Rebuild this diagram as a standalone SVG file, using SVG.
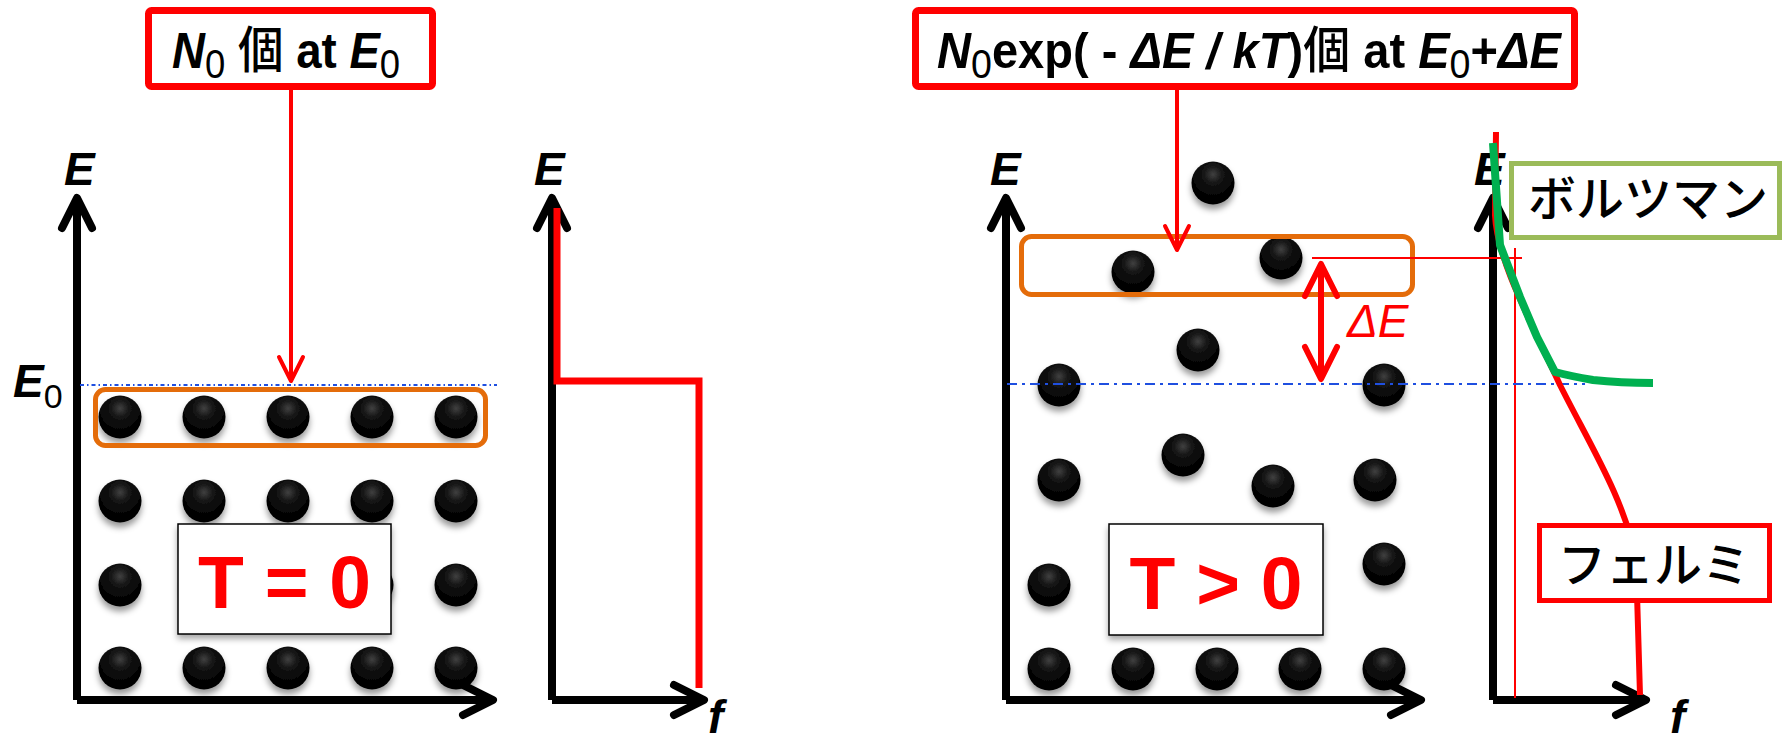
<svg xmlns="http://www.w3.org/2000/svg" width="1783" height="743" viewBox="0 0 1783 743">
<style>
.axis{fill:none;stroke:#000;stroke-width:8;stroke-linecap:butt}
.lbl{font-family:"Liberation Sans","Noto Sans CJK JP",sans-serif;font-size:50px;font-weight:bold;fill:#000}
.cjk{font-family:"Noto Sans CJK JP",sans-serif;font-weight:500}
.it{font-style:italic}
.sub{font-size:40px;font-weight:normal}
.ax-lbl{font-family:"Liberation Sans",sans-serif;font-size:46px;font-style:italic;font-weight:bold;fill:#000}
.tbox{fill:#fff;stroke:#000;stroke-width:1.5}
.ttext{font-family:"Liberation Sans",sans-serif;font-size:75px;font-weight:bold;fill:#f00;text-anchor:middle}
.obox{fill:none;stroke:#E46C0A;stroke-width:5}
.redbox{fill:#fff;stroke:#f00;stroke-width:7}
.kana{font-family:"Noto Sans CJK JP",sans-serif;font-size:48px;font-weight:500;fill:#000;text-anchor:middle}
.blue-dot{fill:none;stroke:#1f4fe0;stroke-width:2;stroke-dasharray:4 3 1.5 3}
.blue-dd{fill:none;stroke:#1f4fe0;stroke-width:2;stroke-dasharray:10 5 3 5}
.rarrow{fill:none;stroke:#f00;stroke-width:4}
.thin{fill:none;stroke:#f00;stroke-width:2}
</style>
<defs>
<radialGradient id="bg" cx="0.5" cy="0.3" r="0.72">
<stop offset="0" stop-color="#404040"/>
<stop offset="0.3" stop-color="#141414"/>
<stop offset="0.75" stop-color="#030303"/>
<stop offset="1" stop-color="#000"/>
</radialGradient>
<filter id="bsh" x="-50%" y="-50%" width="200%" height="220%">
<feDropShadow dx="0" dy="5" stdDeviation="3" flood-color="#000" flood-opacity="0.4"/>
</filter>
<filter id="boxsh" x="-10%" y="-10%" width="120%" height="130%">
<feDropShadow dx="0" dy="4" stdDeviation="3" flood-color="#000" flood-opacity="0.35"/>
</filter>
<circle id="ball" r="21.5" fill="url(#bg)" filter="url(#bsh)"/>
<marker id="ax" markerUnits="userSpaceOnUse" viewBox="-40 -25 50 50" refX="0" refY="0" markerWidth="50" markerHeight="50" orient="auto" overflow="visible">
<path d="M-30,-15 L0,0 L-30,15" fill="none" stroke="#000" stroke-width="8" stroke-linecap="round" stroke-linejoin="round"/>
</marker>
<marker id="ra" markerUnits="userSpaceOnUse" viewBox="-30 -20 40 40" refX="0" refY="0" markerWidth="40" markerHeight="40" orient="auto" overflow="visible">
<path d="M-24,-12 L0,0 L-24,12" fill="none" stroke="#f00" stroke-width="4" stroke-linecap="round" stroke-linejoin="round"/>
</marker>
<marker id="rb" markerUnits="userSpaceOnUse" viewBox="-40 -25 50 50" refX="0" refY="0" markerWidth="50" markerHeight="50" orient="auto-start-reverse" overflow="visible">
<path d="M-32,-16 L0,0 L-32,16" fill="none" stroke="#f00" stroke-width="6" stroke-linecap="round" stroke-linejoin="round"/>
</marker>
</defs>
<rect width="1783" height="743" fill="#fff"/>

<!-- LEFT PANEL -->
<g id="left-axes">
<path class="axis" d="M77 700 V198" marker-end="url(#ax)"/>
<path class="axis" d="M77 700 H493" marker-end="url(#ax)"/>
<text class="ax-lbl" x="64" y="185">E</text>
<text class="ax-lbl" x="13" y="397">E<tspan font-size="34" font-style="normal" font-weight="normal" dy="11">0</tspan></text>
</g>
<g id="left-balls">
<use href="#ball" x="120" y="417"/><use href="#ball" x="204" y="417"/><use href="#ball" x="288" y="417"/><use href="#ball" x="372" y="417"/><use href="#ball" x="456" y="417"/>
<use href="#ball" x="120" y="501"/><use href="#ball" x="204" y="501"/><use href="#ball" x="288" y="501"/><use href="#ball" x="372" y="501"/><use href="#ball" x="456" y="501"/>
<use href="#ball" x="120" y="585"/><use href="#ball" x="204" y="585"/><use href="#ball" x="288" y="585"/><use href="#ball" x="372" y="585"/><use href="#ball" x="456" y="585"/>
<use href="#ball" x="120" y="668"/><use href="#ball" x="204" y="668"/><use href="#ball" x="288" y="668"/><use href="#ball" x="372" y="668"/><use href="#ball" x="456" y="668"/>
</g>
<g id="left-e0-line"><path class="blue-dot" d="M80 385 H497"/></g>
<g id="left-group-box"><rect class="obox" x="95.5" y="389.5" width="390" height="56" rx="10"/></g>
<g id="t0-box">
<rect class="tbox" x="178" y="524" width="213" height="110" filter="url(#boxsh)"/>
<text class="ttext" x="284.5" y="608">T = 0</text>
</g>
<g id="left-dist-axes">
<path class="axis" d="M552 700 V198" marker-end="url(#ax)"/>
<path class="axis" d="M552 700 H704" marker-end="url(#ax)"/>
<text class="ax-lbl" x="708" y="733">f</text>
<text class="ax-lbl" x="534" y="185">E</text>
</g>
<g id="step-curve"><path d="M557 208 V381 H699 V688" fill="none" stroke="#f00" stroke-width="7" stroke-linejoin="miter"/></g>
<g id="label-n0">
<rect class="redbox" x="148.5" y="10.5" width="284" height="76" rx="3"/>
<text class="lbl" transform="translate(172 68) scale(0.912 1)" x="0" y="0"><tspan class="it">N</tspan><tspan class="sub" dy="10">0</tspan><tspan dy="-10"> </tspan><tspan class="cjk">個</tspan><tspan> at </tspan><tspan class="it">E</tspan><tspan class="sub" dy="10">0</tspan></text>
</g>

<!-- RIGHT PANEL -->
<g id="right-axes">
<path class="axis" d="M1006 700 V198" marker-end="url(#ax)"/>
<path class="axis" d="M1006 700 H1421" marker-end="url(#ax)"/>
<text class="ax-lbl" x="990" y="185">E</text>
</g>
<g id="right-balls">
<use href="#ball" x="1213" y="183"/>
<use href="#ball" x="1133" y="272"/><use href="#ball" x="1281" y="258"/>
<use href="#ball" x="1198" y="350"/>
<use href="#ball" x="1059" y="385"/><use href="#ball" x="1384" y="385"/>
<use href="#ball" x="1183" y="455"/>
<use href="#ball" x="1059" y="480"/><use href="#ball" x="1273" y="486"/><use href="#ball" x="1375" y="480"/>
<use href="#ball" x="1049" y="585"/><use href="#ball" x="1384" y="564"/>
<use href="#ball" x="1049" y="669"/><use href="#ball" x="1133" y="669"/><use href="#ball" x="1217" y="669"/><use href="#ball" x="1300" y="669"/><use href="#ball" x="1384" y="669"/>
</g>
<g id="right-group-box"><rect class="obox" x="1021.5" y="236.5" width="391" height="58" rx="10"/></g>
<g id="tp-box">
<rect class="tbox" x="1109" y="524" width="214" height="111" filter="url(#boxsh)"/>
<text class="ttext" x="1216" y="609">T &gt; 0</text>
</g>
<g id="right-dist-axes">
<text class="ax-lbl" x="1474" y="185">E</text>
<path class="axis" d="M1493 700 V198" marker-end="url(#ax)"/>
<path class="axis" d="M1493 700 H1646" marker-end="url(#ax)"/>
<text class="ax-lbl" x="1670" y="733">f</text>
</g>
<g id="ref-lines">
<path class="thin" d="M1312 258 H1522"/>
<path class="thin" d="M1515 248 V698"/>
<path class="blue-dd" d="M1007 384 H1585"/>
</g>
<g id="fermi-curve"><path d="M1496 132 L1495 215 C1497 260 1530 320 1560 385 C1590 445 1625 500 1636 560 L1640 695" fill="none" stroke="#f00" stroke-width="6" stroke-linejoin="round"/></g>
<g id="boltzmann-curve"><path d="M1493 143 L1500 245 L1520 297 L1537 337 L1555 372 Q1570 376 1593 380 Q1620 383 1653 383" fill="none" stroke="#00B050" stroke-width="8" stroke-linejoin="round"/></g>
<g id="label-boltzmann">
<rect x="1511.5" y="163.5" width="268" height="74" fill="#fff" stroke="#9BBB59" stroke-width="5"/>
<text class="kana" x="1648" y="216">ボルツマン</text>
</g>
<g id="label-fermi">
<rect x="1539.5" y="525.5" width="230" height="75" fill="#fff" stroke="#f00" stroke-width="5"/>
<text class="kana" x="1654" y="582">フェルミ</text>
</g>
<g id="label-delta-e">
<text x="1347" y="337" font-family="Liberation Sans,sans-serif" font-size="46" font-style="italic" fill="#f00">ΔE</text>
</g>
<g id="label-n0exp">
<rect class="redbox" x="915.5" y="10.5" width="659" height="76" rx="3"/>
<text class="lbl" transform="translate(937 68) scale(0.941 1)" x="0" y="0"><tspan class="it">N</tspan><tspan class="sub" dy="10">0</tspan><tspan dy="-10">exp( - </tspan><tspan class="it">ΔE</tspan><tspan class="it"> / </tspan><tspan class="it">kT</tspan><tspan>)</tspan><tspan class="cjk">個</tspan><tspan> at </tspan><tspan class="it">E</tspan><tspan class="sub" dy="10">0</tspan><tspan dy="-10">+</tspan><tspan class="it">ΔE</tspan></text>
</g>

<!-- CONNECTORS -->
<g id="connectors">
<path class="rarrow" d="M291 90 V381" marker-end="url(#ra)"/>
<path class="rarrow" d="M1177 90 V250" marker-end="url(#ra)"/>
<path d="M1321 264 V379" fill="none" stroke="#f00" stroke-width="6" marker-start="url(#rb)" marker-end="url(#rb)"/>
</g>
</svg>
